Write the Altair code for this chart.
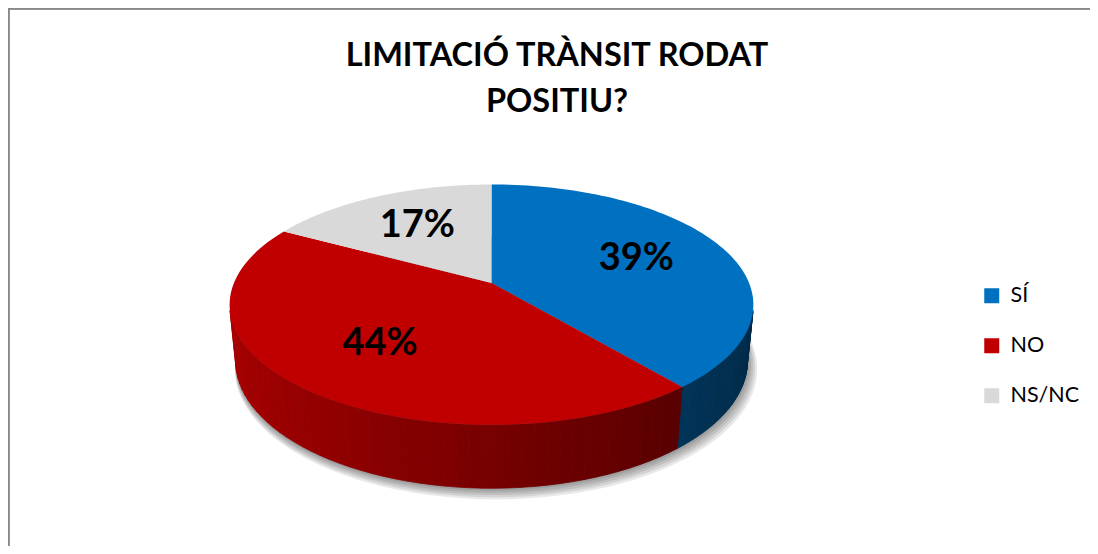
import altair as alt
import pandas as pd

# ---- data ----
categories = ["SÍ", "NO", "NS/NC"]
values = [39, 44, 17]
title_lines = ["LIMITACIÓ TRÀNSIT RODAT", "POSITIU?"]

# ---- style / layout constants ----
COLORS = ["#0070C0", "#C00000", "#D9D9D9"]
W, HGT = 1082, 538
CX, CY = 483.5, 275.0          # projected pie centre (chart px)
F = 1275.0                     # focal length (px)
D = 4.95                       # camera distance (pie radii)
SN, CS = 0.4514, 0.8926        # sin / cos of the viewing elevation
DEPTH = 0.246                  # pie thickness (radii)
VIS_LO, VIS_HI = 103.08, 256.92  # visible part of the side wall (deg)
FONT = "Lato"

df = pd.DataFrame({"cat": categories, "val": values,
                   "ord": list(range(len(categories)))})

color_expr = "".join(f"datum.cat === '{c}' ? '{col}' : " for c, col in zip(categories, COLORS)) + "'#999999'"


def project(ch):
    """Append perspective projection of (t [deg], rho, hh) -> (px, py)."""
    return (ch.transform_calculate(X="datum.rho * sin(datum.t * PI / 180)")
              .transform_calculate(Z="datum.rho * cos(datum.t * PI / 180)")
              .transform_calculate(w=f"{D} + datum.Z * {CS} - datum.hh * {SN}")
              .transform_calculate(px=f"{CX} + {F} * datum.X / datum.w")
              .transform_calculate(py=f"{CY} - {F} * (datum.Z * {SN} + datum.hh * {CS}) / datum.w"))


xs = alt.Scale(domain=[0, W], nice=False, zero=False)
ys = alt.Scale(domain=[0, HGT], nice=False, zero=False, reverse=True)

base = (alt.Chart(df)
        .transform_window(cum="sum(val)", sort=[alt.SortField("ord", order="ascending")], frame=[None, 0])
        .transform_joinaggregate(total="sum(val)")
        .transform_calculate(a1="datum.cum / datum.total * 360")
        .transform_calculate(a0="(datum.cum - datum.val) / datum.total * 360"))

# ---- soft shadow under the pie ----
shadow = (base.transform_filter("datum.ord == 0")
          .transform_calculate(s="sequence(1, 6)").transform_flatten(["s"])
          .transform_calculate(k="sequence(0, 121)").transform_flatten(["k"])
          .transform_calculate(t="datum.k * 3")
          .transform_calculate(rho="1 + datum.s * 0.004")
          .transform_calculate(hh=f"-{DEPTH}"))
shadow = project(shadow).transform_calculate(
    sx="datum.px + datum.s * 0.9").transform_calculate(sy="datum.py + datum.s * 1.5")
shadow = shadow.mark_line(filled=True, interpolate="linear-closed", color="#000000",
                          opacity=0.09).encode(
    x=alt.X("sx:Q", scale=xs, axis=None),
    y=alt.Y("sy:Q", scale=ys, axis=None),
    order="k:Q", detail="s:N")

# ---- side wall, drawn as thin shaded quads ----
M = 48
side = (base.transform_calculate(lo=f"max(datum.a0, {VIS_LO})")
        .transform_calculate(hi=f"min(datum.a1, {VIS_HI})")
        .transform_filter("datum.lo < datum.hi")
        .transform_calculate(j=f"sequence(0, {M})").transform_flatten(["j"])
        .transform_calculate(v="sequence(0, 4)").transform_flatten(["v"])
        .transform_calculate(ta=f"datum.lo + datum.j * (datum.hi - datum.lo) / {M}")
        .transform_calculate(tb=f"datum.lo + (datum.j + 1) * (datum.hi - datum.lo) / {M}")
        .transform_calculate(t="(datum.v == 0 || datum.v == 3) ? datum.ta : datum.tb")
        .transform_calculate(rho="1")
        .transform_calculate(hh=f"datum.v < 2 ? 0 : -{DEPTH}")
        .transform_calculate(fct="0.62 - 0.25 * sin((datum.ta + datum.tb) / 2 * PI / 180)")
        .transform_calculate(bc=color_expr)
        .transform_calculate(scol="'rgb(' + round(rgb(datum.bc).r * datum.fct) + ',' + round(rgb(datum.bc).g * datum.fct) + ',' + round(rgb(datum.bc).b * datum.fct) + ')'")
        .transform_calculate(qid="datum.cat + '_' + datum.j"))
side = project(side).mark_line(filled=True, interpolate="linear-closed", strokeWidth=0.8).encode(
    x=alt.X("px:Q", scale=xs, axis=None),
    y=alt.Y("py:Q", scale=ys, axis=None),
    order="v:Q",
    color=alt.Color("scol:N", scale=None, legend=None),
    stroke=alt.Stroke("scol:N", scale=None, legend=None),
    detail="qid:N")

# ---- top face ----
N = 90
top = (base.transform_calculate(k=f"sequence(0, {N + 2})").transform_flatten(["k"])
       .transform_calculate(t=f"datum.a0 + (datum.k - 1) / {N} * (datum.a1 - datum.a0)")
       .transform_calculate(rho="datum.k == 0 ? 0 : 1")
       .transform_calculate(hh="0"))
top = project(top).mark_line(filled=True, interpolate="linear-closed", strokeWidth=0).encode(
    x=alt.X("px:Q", scale=xs, axis=None),
    y=alt.Y("py:Q", scale=ys, axis=None),
    order="k:Q",
    color=alt.Color("cat:N", scale=alt.Scale(domain=categories, range=COLORS),
                    legend=alt.Legend(orient="none", legendX=973, legendY=277,
                                      direction="vertical", title=None,
                                      symbolType="square", symbolSize=225,
                                      symbolStrokeWidth=0, labelFont=FONT,
                                      labelFontSize=21.5, labelColor="#000000",
                                      labelOffset=8, rowPadding=27, padding=0)),
    detail="cat:N")

# ---- percentage labels ----
labels = (base.transform_calculate(t="(datum.a0 + datum.a1) / 2")
          .transform_calculate(rho="0.62")
          .transform_calculate(hh="0")
          .transform_calculate(lab="datum.val + '%'"))
labels = project(labels).mark_text(font=FONT, fontSize=38, fontWeight="bold", color="#000000",
                                   align="center", baseline="middle").encode(
    x=alt.X("px:Q", scale=xs, axis=None),
    y=alt.Y("py:Q", scale=ys, axis=None),
    text="lab:N")

# ---- chart-area frame (top and left edges visible) ----
frame_top = alt.Chart(df).mark_rule(color="#888888", strokeWidth=1.5).encode(
    x=alt.value(0), x2=alt.value(W), y=alt.value(0.75))
frame_left = alt.Chart(df).mark_rule(color="#888888", strokeWidth=1.5).encode(
    x=alt.value(0.75), y=alt.value(0), y2=alt.value(HGT))

chart = alt.layer(shadow, side, top, labels, frame_top, frame_left).resolve_scale(
    color="independent", stroke="independent"
).properties(
    width=W, height=HGT,
    autosize=alt.AutoSizeParams(type="none"),
    padding={"left": 0, "top": 0, "right": 0, "bottom": 0},
    title=alt.TitleParams(text=title_lines, anchor="middle", font=FONT, fontSize=32.5,
                          fontWeight="bold", color="#000000", lineHeight=46,
                          offset=-111, dx=8),
).configure_view(strokeWidth=0, strokeOpacity=0).configure(background="#ffffff")

chart.save("out.html", embed_options={"renderer": "svg", "actions": False})
